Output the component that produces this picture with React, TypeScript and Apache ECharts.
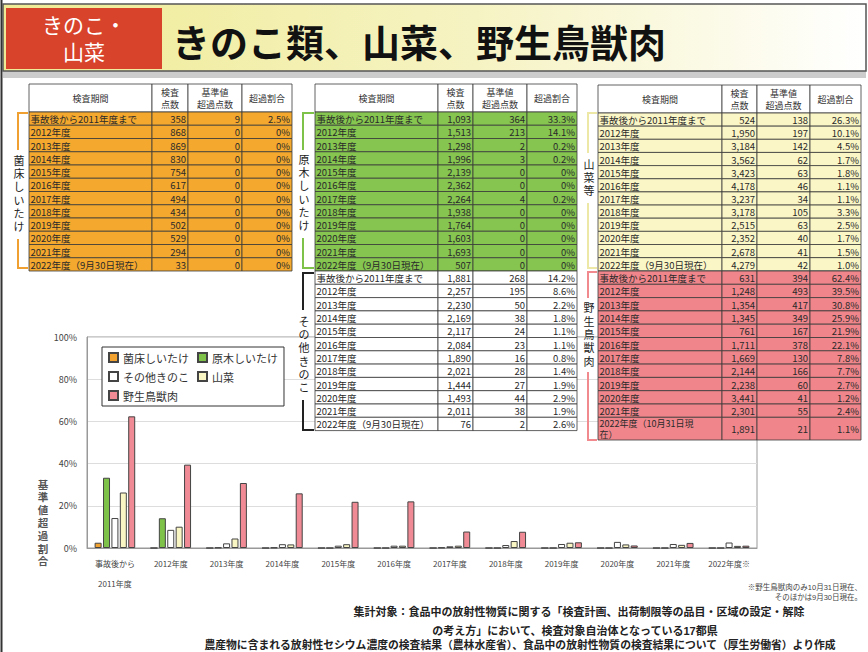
import React, { useEffect, useRef } from "react";
import * as echarts from "echarts";

const FONT = '"Noto Sans CJK JP", "Noto Sans", sans-serif';
const VFONT = '"Liberation Sans", "Noto Sans CJK JP", sans-serif';

// ---- chart data ----
const categories = [
  "事故後から\n2011年度", "2012年度", "2013年度", "2014年度", "2015年度", "2016年度",
  "2017年度", "2018年度", "2019年度", "2020年度", "2021年度", "2022年度※",
];
const seriesNames = ["菌床しいたけ", "原木しいたけ", "その他きのこ", "山菜", "野生鳥獣肉"];

// ---- table data ----
const tableHeaders = ["検査期間", "検査\n点数", "基準値\n超過点数", "超過割合"];
const periodLabels = [
  "事故後から2011年度まで", "2012年度", "2013年度", "2014年度", "2015年度", "2016年度",
  "2017年度", "2018年度", "2019年度", "2020年度", "2021年度", "2022年度（9月30日現在）",
];
const periodLabelsWild = [
  "事故後から2011年度まで", "2012年度", "2013年度", "2014年度", "2015年度", "2016年度",
  "2017年度", "2018年度", "2019年度", "2020年度", "2021年度", "2022年度（10月31日現\n在）",
];

const kinshoCount = [358, 868, 869, 830, 754, 617, 494, 434, 502, 529, 294, 33];
const kinshoOver = [9, 0, 0, 0, 0, 0, 0, 0, 0, 0, 0, 0];
const kinshoRatio = [2.5, 0, 0, 0, 0, 0, 0, 0, 0, 0, 0, 0];

const gembokuCount = [1093, 1513, 1298, 1996, 2139, 2362, 2264, 1938, 1764, 1603, 1693, 507];
const gembokuOver = [364, 213, 2, 3, 0, 0, 4, 0, 0, 0, 0, 0];
const gembokuRatio = [33.3, 14.1, 0.2, 0.2, 0, 0, 0.2, 0, 0, 0, 0, 0];

const sonotaCount = [1881, 2257, 2230, 2169, 2117, 2084, 1890, 2021, 1444, 1493, 2011, 76];
const sonotaOver = [268, 195, 50, 38, 24, 23, 16, 28, 27, 44, 38, 2];
const sonotaRatio = [14.2, 8.6, 2.2, 1.8, 1.1, 1.1, 0.8, 1.4, 1.9, 2.9, 1.9, 2.6];

const sansaiCount = [524, 1950, 3184, 3562, 3423, 4178, 3237, 3178, 2515, 2352, 2678, 4279];
const sansaiOver = [138, 197, 142, 62, 63, 46, 34, 105, 63, 40, 41, 42];
const sansaiRatio = [26.3, 10.1, 4.5, 1.7, 1.8, 1.1, 1.1, 3.3, 2.5, 1.7, 1.5, 1.0];

const yaseiCount = [631, 1248, 1354, 1345, 761, 1711, 1669, 2144, 2238, 3441, 2301, 1891];
const yaseiOver = [394, 493, 417, 349, 167, 378, 130, 166, 60, 41, 55, 21];
const yaseiRatio = [62.4, 39.5, 30.8, 25.9, 21.9, 22.1, 7.8, 7.7, 2.7, 1.2, 2.4, 1.1];

const barColors = ["#f2a22e", "#7fc24a", "#ffffff", "#faf6c4", "#f08a94"];
const cellColors = ["#f4a82d", "#85c550", "#ffffff", "#faf6c6", "#f0868b"];

const fmtNum = (n: number) => n.toLocaleString("en-US");
const fmtPct = (v: number) => (v === 0 ? "0%" : v.toFixed(1) + "%");

function buildHeader(cols: number[], top: number, h: number): any[] {
  const els: any[] = [];
  for (let c = 0; c < 4; c++) {
    const x0 = cols[c], x1 = cols[c + 1];
    els.push({
      type: "rect", z: 100,
      shape: { x: x0, y: top, width: x1 - x0, height: h },
      style: { fill: "#ffffff", stroke: "#3a3a3a", lineWidth: 0.8 },
    });
    const lines = tableHeaders[c].split("\n");
    lines.forEach((t, k) => {
      els.push({
        type: "text", z: 101, x: (x0 + x1) / 2,
        y: top + h / 2 + (k - (lines.length - 1) / 2) * 12,
        style: {
          text: t, fill: "#333", font: `9px ${FONT}`,
          align: "center", verticalAlign: "middle",
        },
      });
    });
  }
  return els;
}

function buildRows(cols: number[], top: number, rowHs: number[], labels: string[],
  counts: number[], overs: number[], ratios: number[], fill: string): any[] {
  const els: any[] = [];
  let y = top;
  for (let i = 0; i < labels.length; i++) {
    const h = rowHs[i];
    const vals = [labels[i], fmtNum(counts[i]), fmtNum(overs[i]), fmtPct(ratios[i])];
    for (let c = 0; c < 4; c++) {
      const x0 = cols[c], x1 = cols[c + 1];
      els.push({
        type: "rect", z: 100,
        shape: { x: x0, y, width: x1 - x0, height: h },
        style: { fill, stroke: "#3a3a3a", lineWidth: 0.8 },
      });
      const lines = vals[c].split("\n");
      const multi = lines.length > 1;
      lines.forEach((t, k) => {
        els.push({
          type: "text", z: 101,
          x: c === 0 ? x0 + 1.5 : x1 - 2,
          y: multi ? y + 6 + k * 11.5 : y + h / 2 + 0.5,
          style: {
            text: t, fill: "#2a2a2a", font: `${multi ? 9 : 9.5}px ${FONT}`,
            align: c === 0 ? "left" : "right", verticalAlign: "middle",
          },
        });
      });
    }
    y += h;
  }
  return els;
}

function verticalText(text: string, x: number, yCenter: number, step: number, font: string, fill: string): any[] {
  const chars = text.split("");
  const y0 = yCenter - ((chars.length - 1) * step) / 2;
  return chars.map((ch, k) => ({
    type: "text", z: 101, x, y: y0 + k * step,
    style: { text: ch, fill, font, align: "center", verticalAlign: "middle" },
  }));
}

function bracket(x: number, tick: number, yTop: number, yBot: number, gapTop: number,
  gapBot: number, color: string, label: string, labelY: number): any[] {
  return [
    { type: "polyline", z: 99, shape: { points: [[tick, yTop], [x, yTop], [x, gapTop]] },
      style: { stroke: color, lineWidth: 2, fill: null } },
    { type: "polyline", z: 99, shape: { points: [[x, gapBot], [x, yBot], [tick, yBot]] },
      style: { stroke: color, lineWidth: 2, fill: null } },
    ...verticalText(label, x + 1, labelY, 13.3, `11px ${VFONT}`, "#222"),
  ];
}

const rows12 = (h: number) => new Array(12).fill(h);

export default function App() {
  const ref = useRef<HTMLDivElement>(null);
  useEffect(() => {
    if (!ref.current) return;
    const chart = echarts.init(ref.current, undefined, { renderer: "svg" });

    const colsL = [29, 152, 188, 242, 292];
    const colsM = [315, 438, 473, 527, 577];
    const colsR = [598, 722, 757, 810, 861];
    const wildHs = [...new Array(11).fill(13.3), 22.7];

    const graphic: any[] = [
      // slide left border
      { type: "line", z: 90, shape: { x1: 1.5, y1: 0, x2: 1.5, y2: 652 }, style: { stroke: "#333", lineWidth: 2 } },
      // header band
      { type: "rect", z: 90, shape: { x: 3, y: 71, width: 863, height: 7 }, style: { fill: "#cccccc" } },
      { type: "rect", z: 91, shape: { x: 3, y: 4, width: 863, height: 67 },
        style: {
          fill: new echarts.graphic.LinearGradient(0, 0, 1, 0, [
            { offset: 0, color: "#efeb95" }, { offset: 0.55, color: "#f6f3c3" }, { offset: 1, color: "#ffffff" },
          ]),
          stroke: "#555", lineWidth: 1.5,
        } },
      { type: "rect", z: 92, shape: { x: 6, y: 8, width: 156, height: 61 }, style: { fill: "#d8432b" } },
      { type: "text", z: 93, x: 84, y: 25, style: { text: "きのこ・", fill: "#fff", font: `21px ${VFONT}`, align: "center", verticalAlign: "middle" } },
      { type: "text", z: 93, x: 84, y: 52, style: { text: "山菜", fill: "#fff", font: `21px ${VFONT}`, align: "center", verticalAlign: "middle" } },
      { type: "text", z: 93, x: 172, y: 40, style: { text: "きのこ類、山菜、野生鳥獣肉", fill: "#111", font: `bold 38px ${FONT}`, align: "left", verticalAlign: "middle" } },

      // tables
      ...buildHeader(colsL, 84, 28),
      ...buildRows(colsL, 112, rows12(13.25), periodLabels, kinshoCount, kinshoOver, kinshoRatio, cellColors[0]),
      ...buildHeader(colsM, 84, 28),
      ...buildRows(colsM, 112, rows12(13.25), periodLabels, gembokuCount, gembokuOver, gembokuRatio, cellColors[1]),
      ...buildRows(colsM, 271, rows12(13.3), periodLabels, sonotaCount, sonotaOver, sonotaRatio, cellColors[2]),
      ...buildHeader(colsR, 85, 28),
      ...buildRows(colsR, 113, rows12(13.15), periodLabels, sansaiCount, sansaiOver, sansaiRatio, cellColors[3]),
      ...buildRows(colsR, 271, wildHs, periodLabelsWild, yaseiCount, yaseiOver, yaseiRatio, cellColors[4]),

      // brackets
      ...bracket(18, 28, 113, 268, 150, 239, "#f0a030", seriesNames[0], 194),
      ...bracket(303, 314, 113, 268, 150, 238, "#7fc24a", seriesNames[1], 193),
      ...bracket(303, 314, 273, 430, 310, 400, "#222222", seriesNames[2], 355),
      ...bracket(588, 597, 113, 268, 153, 203, "#eee8a6", "山菜等", 178),
      ...bracket(588, 597, 272, 440, 298, 372, "#f08a8f", seriesNames[4], 335),

      // y axis name
      ...verticalText("基準値超過割合", 43, 523, 12.8, `bold 10.5px ${VFONT}`, "#555"),

      // notes
      { type: "text", z: 95, x: 862, y: 587, style: { text: "※野生鳥獣肉のみ10月31日現在、", fill: "#444", font: `7.5px ${VFONT}`, align: "right", verticalAlign: "middle" } },
      { type: "text", z: 95, x: 862, y: 597, style: { text: "そのほかは9月30日現在。", fill: "#444", font: `7.5px ${VFONT}`, align: "right", verticalAlign: "middle" } },
      { type: "text", z: 95, x: 579, y: 612, style: { text: "集計対象：食品中の放射性物質に関する「検査計画、出荷制限等の品目・区域の設定・解除", fill: "#222", font: `bold 11px ${VFONT}`, align: "center", verticalAlign: "middle" } },
      { type: "text", z: 95, x: 575, y: 631, style: { text: "の考え方」において、検査対象自治体となっている17都県", fill: "#222", font: `bold 11px ${VFONT}`, align: "center", verticalAlign: "middle" } },
      { type: "text", z: 95, x: 520, y: 645, style: { text: "農産物に含まれる放射性セシウム濃度の検査結果（農林水産省）、食品中の放射性物質の検査結果について（厚生労働省）より作成", fill: "#222", font: `bold 10.8px ${VFONT}`, align: "center", verticalAlign: "middle" } },
    ];

    const ratios = [kinshoRatio, gembokuRatio, sonotaRatio, sansaiRatio, yaseiRatio];

    chart.setOption({
      animation: false,
      backgroundColor: "#ffffff",
      textStyle: { fontFamily: FONT },
      grid: { left: 87, top: 337, width: 670, height: 211, show: true, borderColor: "#999", borderWidth: 1 },
      legend: {
        data: seriesNames, left: 102, top: 347, width: 175, orient: "horizontal",
        itemGap: 8, itemWidth: 9, itemHeight: 9, icon: "rect",
        padding: [5, 6, 5, 6], backgroundColor: "#fff", borderColor: "#333", borderWidth: 1,
        textStyle: { fontSize: 11, color: "#333", fontFamily: FONT },
      },
      xAxis: {
        type: "category", data: categories,
        axisTick: { show: false },
        axisLine: { lineStyle: { color: "#999" } },
        axisLabel: { interval: 0, fontSize: 8, color: "#444", lineHeight: 20, margin: 5, fontFamily: FONT },
      },
      yAxis: {
        type: "value", min: 0, max: 100, interval: 20,
        axisLine: { show: true, lineStyle: { color: "#999" } },
        axisLabel: { formatter: "{value}%", fontSize: 9, color: "#444", margin: 10 },
        splitLine: { lineStyle: { color: "#dddddd" } },
      },
      series: seriesNames.map((name, i) => ({
        name, type: "bar", data: ratios[i], barWidth: 7, barGap: "20%",
        itemStyle: { color: barColors[i], borderColor: "#444", borderWidth: 1 },
      })),
      graphic,
    });
    return () => chart.dispose();
  }, []);
  return (
    <div ref={ref} style={{ position: "fixed", left: 0, top: 0, width: 868, height: 652, background: "#fff" }} />
  );
}
